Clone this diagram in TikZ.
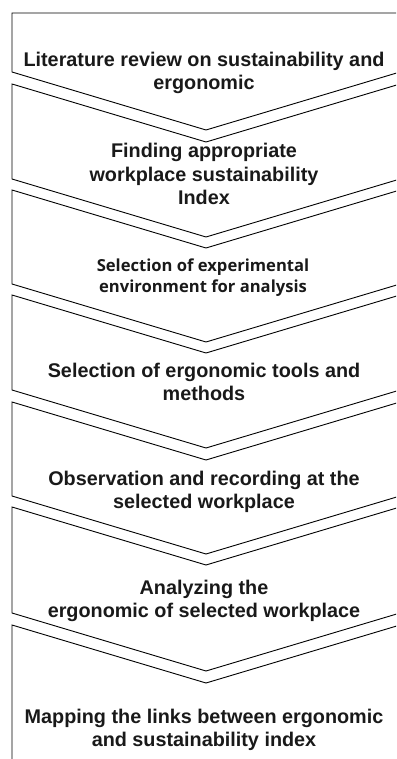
\documentclass[tikz,border=0pt]{standalone}
\usepackage{fontspec}
\setmainfont{Liberation Sans}
\newfontfamily\envfont{Open Sans}
\begin{document}
\begin{tikzpicture}[x=1pt, y=-1pt,
  chev/.style={draw=black, line width=0.9pt},
  steplabel/.style={align=center, text=black!90, font=\bfseries\fontsize{19.8}{23.5}\selectfont}]
\useasboundingbox (0,0) rectangle (396,759);
\clip (0,0) rectangle (396,759);

 % first block, flat top
 \draw[chev] (12,13) -- (400,13) -- (400,72) -- (206,130) -- (12,72) -- cycle;
 % middle chevrons
 \foreach \t/\b in {84/179, 190/284, 295/390, 402/496, 507/613}
   \draw[chev] (12,\t) -- (206,\t+58) -- (400,\t) -- (400,\b) -- (206,\b+58) -- (12,\b) -- cycle;
 % last block, runs off the page
 \draw[chev] (12,625) -- (206,683) -- (400,625) -- (400,790) -- (12,790) -- cycle;

 % labels
\node[steplabel] (lit) at (204,73) {Literature review on sustainability and\\ergonomic};
\node[steplabel] (index) at (204,174) {Finding appropriate\\workplace sustainability\\Index};
\node[steplabel, font=\envfont\bfseries\fontsize{16.6}{21}\selectfont] (env) at (203,278) {Selection of experimental\\environment for analysis};
\node[steplabel] (tools) at (204,382) {Selection of ergonomic tools and\\methods};
\node[steplabel] (obs) at (204,492) {Observation and recording at the\\selected workplace};
\node[steplabel] (analyse) at (204,601) {Analyzing the\\ergonomic of selected workplace};
\node[steplabel] (mapping) at (204,730) {Mapping the links between ergonomic\\and sustainability index};
\end{tikzpicture}
\end{document}
